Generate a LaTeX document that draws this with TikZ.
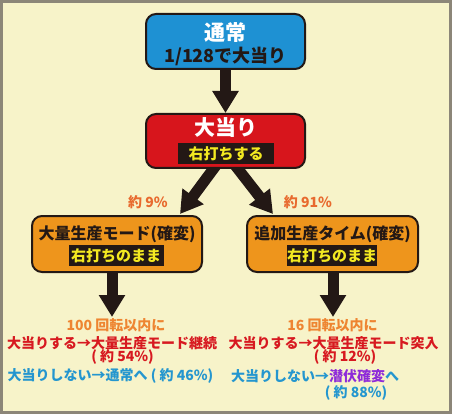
\documentclass[tikz,border=0pt]{standalone}
\usepackage{fontspec}
\setmainfont{Noto Sans CJK JP}
\usetikzlibrary{arrows.meta}
\pgfdeclarelayer{bg}
\pgfdeclarelayer{arrowlayer}
\pgfsetlayers{bg,arrowlayer,main}
\definecolor{cream}{HTML}{F7F3C9}
\definecolor{frame}{HTML}{8C8678}
\definecolor{blu}{HTML}{1E91D3}
\definecolor{redb}{HTML}{D7151C}
\definecolor{orb}{HTML}{EE951C}
\definecolor{dark}{HTML}{231815}
\definecolor{yel}{HTML}{F3E921}
\definecolor{pctc}{HTML}{E86A2E}
\definecolor{condc}{HTML}{EE8531}
\definecolor{redt}{HTML}{D71920}
\definecolor{blt}{HTML}{2496CF}
\definecolor{purp}{HTML}{8E2BD9}
\begin{document}
\begin{tikzpicture}[x=1pt,y=-1pt,
  box/.style={draw=dark, line width=2pt, rounded corners=10pt, inner sep=0pt},
  lbl/.style={fill=dark, text=yel, font=\fontsize{15}{15}\selectfont\bfseries, minimum height=21pt, inner sep=0pt},
  ttl/.style={inner sep=0pt, font=\fontsize{21}{21}\selectfont\bfseries},
  sub/.style={inner sep=0pt, font=\fontsize{16}{16}\selectfont\bfseries, text=dark},
  pct/.style={inner sep=0pt, font=\fontsize{14}{14}\selectfont\bfseries, text=pctc},
  btxt/.style={inner sep=0pt, font=\fontsize{14}{14}\selectfont\bfseries},
  arr/.style={draw=dark, line width=11pt, -{Triangle[width=25pt,length=22pt]}}]
\useasboundingbox (0,0) rectangle (452,414);
\begin{pgfonlayer}{bg}
\fill[cream] (0,0) rectangle (452,414);
\draw[frame, line width=3pt] (1.5,1.5) rectangle (450.5,412.5);
\end{pgfonlayer}
% boxes
\node[box, fill=blu, minimum width=159pt, minimum height=55pt] (top) at (225.5,41.5) {};
\node[ttl, text=white] (topA) at (225.5,33) {通常};
\node[ttl, text=dark, font=\fontsize{18}{18}\selectfont\bfseries] (topB) at (225.5,56) {1/128で大当り};
\node[box, fill=redb, minimum width=159pt, minimum height=54pt] (hit) at (225.5,141) {};
\node[ttl, text=white] (hitA) at (225.5,128) {大当り};
\node[lbl, minimum width=96pt] (hitB) at (226,153.5) {右打ちする};
\node[box, fill=orb, minimum width=170pt, minimum height=56pt] (mass) at (117,244) {};
\node[sub] (massA) at (117,234.5) {大量生産モード(確変)};
\node[lbl, minimum width=95pt] (massB) at (116,255.5) {右打ちのまま};
\node[box, fill=orb, minimum width=171pt, minimum height=56pt] (add) at (332.5,244) {};
\node[sub] (addA) at (332.5,234.5) {追加生産タイム(確変)};
\node[lbl, minimum width=90pt] (addB) at (332,255.5) {右打ちのまま};
% percentages
\node[pct] (p9) at (148,202) {約 9\%};
\node[pct] (p91) at (308,202) {約 91\%};
% arrow coordinates
\coordinate (dl0) at (220,160);
\coordinate (dl1) at (180,214);
\coordinate (dr0) at (231,160);
\coordinate (dr1) at (273,214);
\coordinate (ml0) at (112,266);
\coordinate (ml1) at (112,317);
\coordinate (mr0) at (333,266);
\coordinate (mr1) at (333,317);
\begin{pgfonlayer}{arrowlayer}
\draw[arr] (top.south) -- (hit.north);
\draw[arr] (dl0) -- (dl1);
\draw[arr] (dr0) -- (dr1);
\draw[arr] (ml0) -- (ml1);
\draw[arr] (mr0) -- (mr1);
\end{pgfonlayer}
% bottom texts left
\node[btxt, text=condc] (l1) at (116,325) {100 回転以内に};
\node[btxt, text=redt] (l2) at (112,343) {大当りする→大量生産モード継続};
\node[btxt, text=redt] (l3) at (122.5,357) {( 約 54\%)};
\node[btxt, text=blt] (l4) at (110.5,376) {大当りしない→通常へ ( 約 46\%)};
% bottom texts right
\node[btxt, text=condc] (r1) at (332.5,325) {16 回転以内に};
\node[btxt, text=redt] (r2) at (333.5,343) {大当りする→大量生産モード突入};
\node[btxt, text=redt] (r3) at (345,357) {( 約 12\%)};
\node[btxt, text=blt] (r4) at (315,376) {大当りしない→{\color{purp}潜伏確変}へ};
\node[btxt, text=blt] (r5) at (356,393) {( 約 88\%)};
\end{tikzpicture}
\end{document}
